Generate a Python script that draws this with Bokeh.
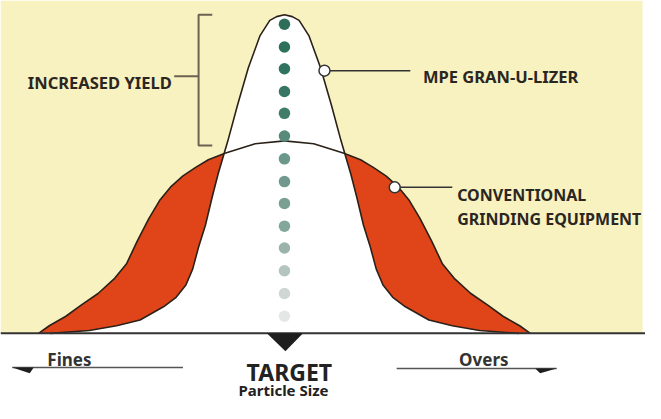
from bokeh.plotting import figure
from bokeh.models import Range1d, Label
from bokeh.embed import file_html
from bokeh.resources import INLINE

# ---- data ----
# particle-size distribution profiles: offset from target size vs. relative amount
target_x = 291
mpe_offset = [0, 8, 15, 25, 37, 48, 58, 68, 74, 81, 88, 94, 101, 111, 124, 148, 172, 200, 240]
mpe_height = [336, 334, 330, 314, 280, 241, 203, 168, 144, 114, 91, 68, 51, 38, 28, 14, 8, 3, 0]
conv_offset = [0, 30, 61, 78, 91, 104, 116, 128, 139, 151, 162, 174, 191, 208, 224, 241, 252]
conv_height = [203, 200, 190, 183, 175, 166, 155, 140, 121, 97, 73, 58, 42, 30, 18, 8, 0]

# dotted centre line (target size)
dot_heights = [326, 302, 279, 255, 232, 208, 184, 160, 137, 113, 90, 66, 42, 18]
dot_colors = ["#2d6e5b", "#2f705d", "#32735f", "#377663", "#417c69", "#578a7b", "#6a988a",
              "#72998d", "#7aa094", "#84a79c", "#9ab4ab", "#b4c4be", "#cfd6d3", "#e5e7e6"]

labels_top = ["INCREASED YIELD", "MPE GRAN-U-LIZER", "CONVENTIONAL", "GRINDING EQUIPMENT"]
labels_bottom = ["Fines", "Overs", "TARGET", "Particle Size"]


def mirror(off, h):
    xs = [target_x - o for o in reversed(off)] + [target_x + o for o in off[1:]]
    ys = list(reversed(h)) + h[1:]
    return xs, ys


YELLOW = "#f7f2c0"
RED = "#e0451a"
INK = "#2b2118"
TXT = "#2b2622"

p = figure(width=645, height=403, x_range=Range1d(0, 661), y_range=Range1d(-74, 351),
           output_backend="svg", toolbar_location=None, min_border=0,
           background_fill_color="white", border_fill_color="white")
p.axis.visible = False
p.grid.visible = False
p.outline_line_color = None

# yellow upper background
p.quad(left=0, right=658, bottom=0, top=351, fill_color=YELLOW, line_color=None)

cx, cy = mirror(conv_offset, conv_height)
mx, my = mirror(mpe_offset, mpe_height)

p.patch(cx, cy, fill_color=RED, line_color=None)
p.patch(mx, my, fill_color="white", line_color=None)
p.line(cx, cy, line_color=INK, line_width=1.6)
p.line(mx, my, line_color=INK, line_width=1.6)

# dots
p.scatter([target_x] * len(dot_heights), dot_heights, size=11.5, fill_color=dot_colors,
          line_color=None)

# baseline
p.line([0, 661], [0, 0], line_color="#333333", line_width=2)

# target triangle
p.patch([273, 310, 292], [0, 0, -19], fill_color="#1e1e1e", line_color=None)

# bracket
BR = "#6b6350"
p.line([217, 203, 203, 217], [336, 336, 198, 198], line_color=BR, line_width=2)
p.line([178, 203], [271, 271], line_color=BR, line_width=2)

# leaders + markers
p.line([332, 420], [277, 277], line_color="#333333", line_width=1.5)
p.line([404, 463], [154, 154], line_color="#333333", line_width=1.5)
p.scatter([332, 404], [277, 154], size=11, fill_color="white", line_color="#333333",
          line_width=1.5)

# arrows at bottom
p.line([12, 187], [-36, -36], line_color="#555555", line_width=1.5)
p.patch([12, 34, 30], [-36, -36, -42], fill_color="#1e1e1e", line_color=None)
p.line([406, 570], [-37, -37], line_color="#555555", line_width=1.5)
p.patch([548, 570, 553], [-37, -37, -42], fill_color="#1e1e1e", line_color=None)


def lab(x, y, t, size, style="bold", align="left", color=TXT):
    p.add_layout(Label(x=x, y=y, text=t, text_font="Noto Sans", text_font_style=style,
                       text_font_size=size, text_color=color, text_align=align,
                       text_baseline="alphabetic"))


lab(28, 264, labels_top[0], "16.5px")
lab(433, 271, labels_top[1], "16.5px")
lab(468, 146, labels_top[2], "16px")
lab(468, 121, labels_top[3], "16px")
lab(48, -28, labels_bottom[0], "17px", color="#333333")
lab(470, -28, labels_bottom[1], "17px", color="#333333")
lab(296, -41, labels_bottom[2], "23px", align="center", color="#222222")
lab(290, -60, labels_bottom[3], "15px", align="center", color="#222222")

open("out.html", "w").write(file_html(p, INLINE))
